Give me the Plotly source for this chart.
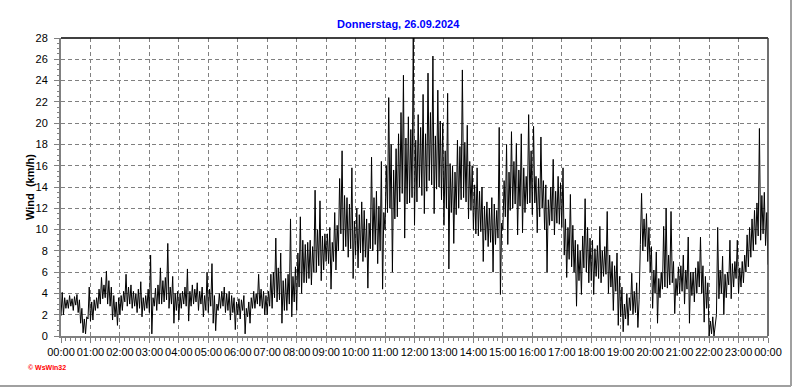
import pandas as pd
import plotly.graph_objects as go

# ---- data (km/h): per 5-minute slot, the low and the high ----
wind_lo_00_06 = [
    1.9, 2.0, 2.6, 2.6, 2.8, 2.4, 2.9, 2.2, 1.2, 0.3, 0.2, 1.6,
    1.4, 1.5, 2.4, 2.6, 3.0, 3.5, 3.6, 3.0, 2.8, 1.5, 1.8, 1.0,
    2.0, 2.4, 3.2, 2.8, 3.0, 2.6, 2.8, 2.2, 2.6, 1.8, 2.4, 2.6,
    2.2, 0.2, 2.8, 2.4, 3.0, 3.0, 3.2, 3.4, 2.6, 3.0, 1.2, 2.4,
    1.5, 2.6, 3.0, 2.8, 1.4, 2.8, 3.0, 3.2, 2.4, 3.0, 1.8, 2.4,
    2.2, 2.8, 1.2, 0.5, 2.4, 2.6, 2.8, 2.2, 2.4, 1.5, 2.2, 0.6,
]
wind_hi_00_06 = [
    4.1, 3.6, 3.4, 3.8, 3.5, 3.7, 3.9, 3.4, 2.6, 1.6, 1.8, 4.6,
    3.2, 3.4, 3.6, 4.4, 5.5, 4.8, 6.1, 5.2, 4.6, 3.8, 3.2, 3.6,
    3.8, 4.2, 5.8, 4.6, 4.8, 4.2, 4.0, 4.4, 5.1, 3.6, 3.8, 4.4,
    7.6, 3.6, 4.5, 4.8, 6.4, 5.2, 5.5, 8.7, 4.6, 5.6, 4.0, 4.2,
    4.0, 4.2, 4.6, 6.3, 4.2, 4.8, 4.4, 5.0, 4.2, 4.6, 3.8, 6.0,
    4.4, 6.8, 3.8, 3.0, 4.0, 4.2, 4.6, 4.0, 4.2, 3.8, 3.6, 3.2,
]
wind_lo_06_12 = [
    2.0, 1.6, 2.4, 0.2, 1.8, 1.2, 2.6, 2.6, 3.0, 2.8, 2.6, 2.0,
    2.0, 2.8, 2.6, 3.6, 3.2, 3.4, 1.2, 2.4, 2.4, 3.0, 1.8, 3.2,
    2.4, 4.6, 4.0, 5.0, 5.0, 5.4, 4.8, 6.0, 6.0, 6.6, 5.2, 6.2,
    7.0, 6.8, 4.4, 7.0, 6.2, 8.0, 9.6, 8.0, 8.4, 7.4, 8.2, 5.4,
    7.6, 6.4, 7.8, 7.0, 7.4, 4.5, 8.2, 8.0, 8.6, 6.8, 8.0, 4.4,
    10.0, 11.6, 12.0, 6.0, 11.0, 11.2, 12.6, 13.4, 9.2, 12.4, 12.5, 13.0,
]
wind_hi_06_12 = [
    3.5, 3.4, 3.8, 2.6, 3.2, 3.6, 4.2, 4.0, 5.8, 4.4, 4.2, 3.8,
    4.2, 5.8, 6.0, 9.2, 6.4, 7.8, 5.2, 5.4, 5.8, 11.0, 5.6, 6.5,
    7.8, 11.2, 9.0, 8.6, 8.8, 9.0, 8.4, 13.7, 10.0, 12.7, 9.4, 9.6,
    9.6, 10.2, 8.8, 11.6, 10.4, 14.8, 17.4, 13.2, 13.0, 12.4, 15.8, 10.8,
    12.0, 11.4, 12.6, 11.8, 11.0, 10.6, 16.8, 13.0, 13.6, 12.2, 16.4, 11.6,
    16.0, 22.4, 18.0, 15.6, 17.6, 19.0, 21.0, 24.5, 18.6, 20.6, 19.4, 28.0,
]
wind_lo_12_18 = [
    10.4, 12.6, 14.0, 13.2, 11.5, 13.6, 14.6, 14.2, 11.5, 13.8, 14.0, 12.8,
    10.4, 12.0, 6.3, 11.6, 8.7, 11.4, 12.0, 12.8, 13.0, 12.6, 11.0, 11.8,
    10.0, 9.6, 9.4, 9.8, 7.0, 9.0, 8.4, 8.8, 6.0, 8.6, 9.2, 3.9,
    10.0, 11.2, 8.6, 11.8, 12.0, 12.4, 9.5, 12.2, 9.7, 11.6, 12.4, 12.5,
    11.4, 12.5, 9.7, 11.2, 12.0, 10.0, 6.0, 10.4, 10.8, 9.5, 10.6, 10.5,
    10.2, 7.6, 5.5, 7.2, 6.5, 6.0, 2.8, 5.2, 3.9, 6.4, 6.0, 5.0,
]
wind_hi_12_18 = [
    18.4, 20.8, 19.6, 22.7, 19.0, 24.7, 21.0, 26.3, 18.8, 23.1, 20.2, 20.0,
    17.4, 22.8, 16.2, 16.0, 15.4, 18.4, 17.8, 25.0, 18.2, 19.8, 16.4, 16.0,
    14.2, 15.8, 13.6, 14.0, 12.2, 12.6, 12.0, 13.0, 12.4, 11.8, 19.6, 10.6,
    14.6, 18.0, 15.4, 19.2, 16.4, 18.1, 15.6, 19.0, 15.8, 15.0, 20.8, 17.4,
    19.7, 15.0, 14.8, 18.7, 14.6, 14.2, 12.8, 14.0, 16.6, 13.6, 15.0, 14.4,
    15.8, 11.0, 10.2, 13.3, 10.4, 9.0, 8.6, 8.0, 9.4, 12.9, 10.2, 9.2,
]
wind_lo_18_24 = [
    5.2, 3.9, 5.6, 5.4, 5.0, 5.6, 5.8, 4.0, 4.6, 2.4, 4.2, 1.0,
    1.8, 0.4, 1.6, 1.0, 2.4, 2.0, 2.2, 0.8, 8.6, 8.0, 8.4, 7.0,
    6.0, 2.6, 4.0, 1.2, 3.6, 4.4, 4.6, 4.5, 4.8, 5.0, 2.1, 3.8,
    4.0, 4.2, 3.0, 4.4, 1.2, 3.8, 3.2, 4.0, 4.6, 4.0, 1.3, 2.6,
    0.0, 0.2, 0.0, 2.0, 3.5, 4.0, 2.0, 3.6, 4.8, 3.5, 4.6, 5.4,
    4.0, 4.6, 5.0, 6.0, 6.5, 7.4, 8.0, 8.6, 9.4, 9.0, 9.6, 8.5,
]
wind_hi_18_24 = [
    9.0, 8.2, 8.5, 10.3, 8.0, 8.4, 11.7, 7.6, 7.0, 6.6, 7.8, 5.6,
    4.6, 3.0, 4.0, 3.6, 5.9, 4.2, 5.0, 3.4, 13.4, 11.0, 11.5, 10.2,
    8.4, 6.2, 7.9, 5.4, 6.0, 10.3, 12.0, 7.6, 11.7, 7.0, 5.4, 6.5,
    6.6, 7.6, 6.2, 9.3, 6.0, 6.0, 6.4, 7.0, 9.3, 6.6, 5.6, 5.0,
    1.4, 1.8, 0.8, 10.2, 6.2, 7.5, 5.8, 6.0, 9.0, 6.8, 7.0, 9.0,
    6.4, 7.0, 7.6, 9.5, 10.2, 11.0, 11.8, 12.5, 19.5, 13.2, 13.5, 11.6,
]
wind_end = 6.7  # reading at 00:00 of the next day

wind_lo = wind_lo_00_06 + wind_lo_06_12 + wind_lo_12_18 + wind_lo_18_24
wind_hi = wind_hi_00_06 + wind_hi_06_12 + wind_hi_12_18 + wind_hi_18_24

slots = pd.date_range("2024-09-26 00:00", periods=len(wind_lo), freq="5min")
half = pd.Timedelta(minutes=2.5)
times, wind = [], []
for t, lo, hi in zip(slots, wind_lo, wind_hi):
    times += [t, t + half]
    wind += [lo, hi]
times.append(pd.Timestamp("2024-09-27 00:00"))
wind.append(wind_end)

tick_times = list(pd.date_range("2024-09-26 00:00", "2024-09-27 00:00", freq="1h"))
tick_labels = [t.strftime("%H:%M") for t in tick_times]
y_ticks = list(range(0, 29, 2))

title_text = "Donnerstag, 26.09.2024"
y_title = "Wind  (km/h)"
credit = "© WsWin32"

# ---- figure ----
L, R, T, B, W, H = 61, 768, 38, 336, 792, 387
pw, ph = R - L, B - T


def px(x):
    return (x - L) / pw


def py(y):
    return (B - y) / ph


fig = go.Figure(go.Scatter(
    x=times, y=wind, mode="lines",
    line=dict(color="black", width=1), hoverinfo="skip"))

fig.update_layout(
    width=W, height=H,
    margin=dict(l=L, r=W - R, t=T, b=H - B, pad=0, autoexpand=False),
    paper_bgcolor="white", plot_bgcolor="white",
    showlegend=False,
    font=dict(family="Liberation Sans, Arial, sans-serif", size=11, color="black"),
)

fig.update_xaxes(
    range=[tick_times[0], tick_times[-1]],
    tickvals=tick_times, ticktext=tick_labels, tickangle=0,
    tickfont=dict(size=11), automargin=False,
    showgrid=True, gridcolor="#808080", gridwidth=1, griddash="4px,3px",
    showline=True, linecolor="#808080", linewidth=2,
    ticks="outside", ticklen=5, tickcolor="#808080", tickwidth=1,
    minor=dict(dtick=600000, ticks="outside", ticklen=3, tickcolor="#808080", showgrid=False),
    zeroline=False, fixedrange=True,
)
fig.update_yaxes(
    range=[0, 28], tickvals=y_ticks,
    tickfont=dict(size=11), automargin=False, ticklabelstandoff=4,
    showgrid=True, gridcolor="#808080", gridwidth=1, griddash="4px,3px",
    showline=True, linecolor="#808080", linewidth=2,
    ticks="outside", ticklen=5, tickcolor="#808080", tickwidth=1,
    minor=dict(dtick=0.5, ticks="outside", ticklen=2, tickcolor="#808080", showgrid=False),
    zeroline=False, fixedrange=True,
)

# plot frame (top/right) and outer image frame (right/bottom)
fig.add_shape(type="line", xref="paper", yref="paper", x0=0, x1=1, y0=1, y1=1,
              line=dict(color="black", width=1.5))
fig.add_shape(type="line", xref="paper", yref="paper", x0=1, x1=1, y0=0, y1=1,
              line=dict(color="#404040", width=1.5))
fig.add_shape(type="line", xref="paper", yref="paper",
              x0=px(W - 1), x1=px(W - 1), y0=py(H - 1), y1=py(0),
              line=dict(color="#a0a0a0", width=2))
fig.add_shape(type="line", xref="paper", yref="paper",
              x0=px(0), x1=px(W - 1), y0=py(H - 1), y1=py(H - 1),
              line=dict(color="#a0a0a0", width=2))

fig.add_annotation(text="<b>" + title_text + "</b>", xref="paper", yref="paper",
                   x=px(398), y=py(24), showarrow=False,
                   font=dict(size=11, color="#0000ff"), xanchor="center", yanchor="middle")
fig.add_annotation(text="<b>" + y_title + "</b>", xref="paper", yref="paper",
                   x=px(30), y=py(187), showarrow=False, textangle=-90,
                   font=dict(size=11, color="black"), xanchor="center", yanchor="middle")
fig.add_annotation(text="<b>" + credit + "</b>", xref="paper", yref="paper",
                   x=px(26), y=py(367), showarrow=False,
                   font=dict(size=7, color="#ff0000"), xanchor="left", yanchor="middle")

fig.write_html("out.html", config={"displayModeBar": False, "staticPlot": True})

# remove the browser's default page margin so the figure sits at (0, 0)
with open("out.html", encoding="utf-8") as f:
    page = f.read()
page = page.replace("<head>", "<head><style>html,body{margin:0;padding:0;overflow:hidden;}</style>", 1)
with open("out.html", "w", encoding="utf-8") as f:
    f.write(page)
